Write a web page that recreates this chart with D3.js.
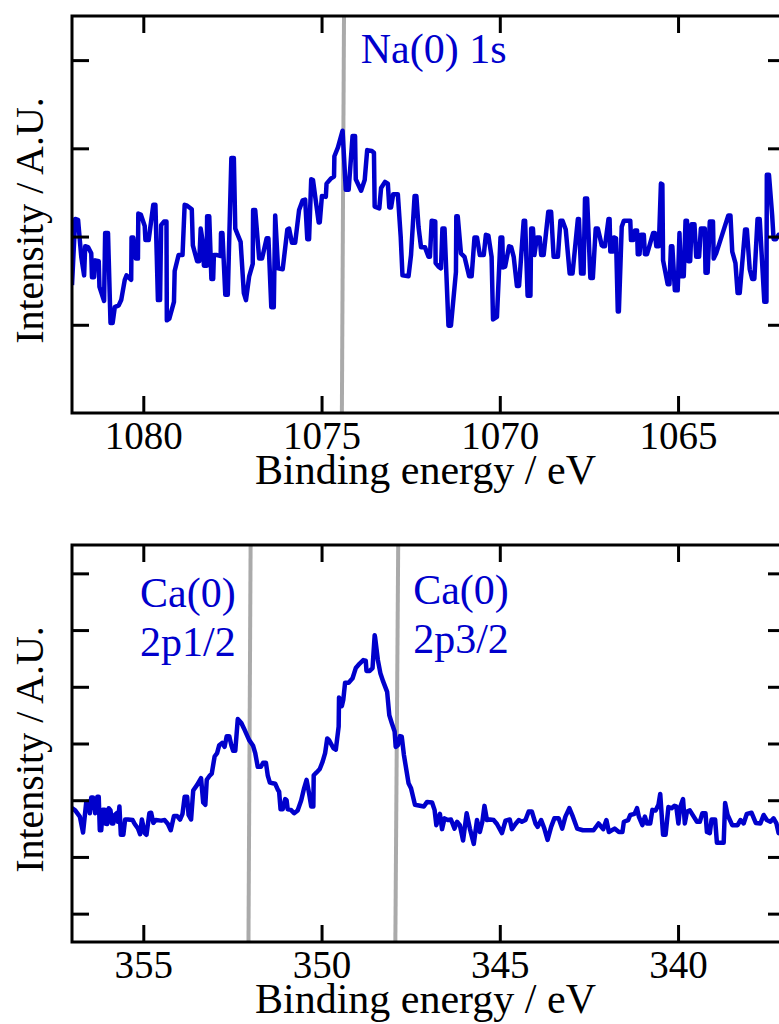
<!DOCTYPE html>
<html>
<head>
<meta charset="utf-8">
<script src="https://cdn.jsdelivr.net/npm/d3@7"></script>
<style>
  body { margin: 0; background: #fff; }
  svg { display: block; }
  svg text { font-family: "Liberation Serif", "Times New Roman", serif; }
</style>
</head>
<body>
<div id="chart-area"></div>
<script>
const naSpectrum = [
  [1082.00,1.45],[1081.91,2.20],[1081.83,2.19],[1081.74,1.77],[1081.66,1.56],[1081.63,1.89],[1081.55,1.88],[1081.46,1.81],
  [1081.44,1.54],[1081.38,1.54],[1081.35,1.73],[1081.25,1.72],[1081.23,1.43],[1081.10,1.27],[1081.07,2.04],[1080.99,2.04],
  [1080.92,1.02],[1080.86,1.02],[1080.80,1.20],[1080.69,1.22],[1080.62,1.28],[1080.52,1.51],[1080.47,1.56],[1080.34,1.51],
  [1080.33,1.99],[1080.28,1.99],[1080.21,1.75],[1080.15,1.75],[1080.14,2.26],[1080.07,2.25],[1079.96,2.12],[1079.94,1.96],
  [1079.85,1.96],[1079.72,2.36],[1079.66,2.36],[1079.59,1.28],[1079.53,1.28],[1079.50,2.13],[1079.42,2.17],[1079.35,2.17],
  [1079.34,1.05],[1079.27,1.07],[1079.14,1.26],[1079.12,1.61],[1079.01,1.79],[1078.90,1.79],[1078.84,2.36],[1078.77,2.35],
  [1078.64,2.31],[1078.61,1.90],[1078.49,1.72],[1078.43,1.72],[1078.39,2.09],[1078.34,1.96],[1078.30,1.67],[1078.22,1.67],
  [1078.21,2.23],[1078.15,2.23],[1078.09,1.52],[1078.04,1.52],[1078.02,1.79],[1077.93,1.79],[1077.83,1.78],[1077.82,2.04],
  [1077.78,2.04],[1077.70,1.34],[1077.63,1.34],[1077.53,2.89],[1077.46,2.89],[1077.42,2.09],[1077.35,2.02],[1077.27,1.94],
  [1077.18,1.36],[1077.12,1.28],[1077.03,1.55],[1076.93,1.69],[1076.92,2.30],[1076.86,2.30],[1076.75,1.75],[1076.67,1.75],
  [1076.54,1.98],[1076.49,1.98],[1076.41,1.20],[1076.34,1.20],[1076.30,2.24],[1076.22,1.64],[1076.09,1.63],[1075.96,2.08],
  [1075.91,2.09],[1075.83,1.93],[1075.74,1.93],[1075.63,2.30],[1075.53,2.41],[1075.46,2.42],[1075.40,1.97],[1075.35,1.97],
  [1075.29,2.65],[1075.24,2.64],[1075.08,2.16],[1075.05,2.16],[1074.99,2.46],[1074.88,2.45],[1074.86,2.60],[1074.73,2.66],
  [1074.65,2.68],[1074.64,2.91],[1074.54,3.01],[1074.41,3.20],[1074.32,2.53],[1074.24,2.53],[1074.13,3.14],[1074.06,3.14],
  [1074.04,2.65],[1073.89,2.52],[1073.79,2.64],[1073.72,2.98],[1073.59,2.97],[1073.53,2.95],[1073.51,2.34],[1073.38,2.32],
  [1073.33,2.55],[1073.22,2.62],[1073.14,2.60],[1073.10,2.33],[1073.05,2.33],[1072.99,2.48],[1072.86,2.48],[1072.78,2.00],
  [1072.73,1.56],[1072.56,1.55],[1072.49,1.79],[1072.39,2.46],[1072.34,2.46],[1072.28,2.11],[1072.21,1.88],[1072.10,1.88],
  [1072.00,1.77],[1071.96,1.77],[1071.91,2.18],[1071.81,2.17],[1071.80,1.70],[1071.72,1.66],[1071.65,1.64],[1071.61,2.09],
  [1071.55,2.09],[1071.44,0.99],[1071.37,0.99],[1071.23,1.60],[1071.22,2.23],[1071.18,2.23],[1071.09,1.81],[1070.99,1.77],
  [1070.86,1.55],[1070.79,1.55],[1070.71,1.99],[1070.64,1.99],[1070.56,1.79],[1070.45,1.79],[1070.39,2.02],[1070.32,2.01],
  [1070.23,1.77],[1070.19,1.06],[1070.08,1.09],[1069.98,1.99],[1069.93,1.99],[1069.91,1.65],[1069.85,1.66],[1069.74,1.89],
  [1069.68,1.88],[1069.61,1.77],[1069.52,1.44],[1069.46,1.44],[1069.33,2.18],[1069.29,2.18],[1069.22,1.33],[1069.14,1.33],
  [1069.12,2.09],[1069.07,2.09],[1069.03,1.79],[1068.96,1.99],[1068.88,1.99],[1068.84,1.79],[1068.77,1.79],[1068.64,2.28],
  [1068.56,2.28],[1068.49,1.77],[1068.37,1.77],[1068.30,2.18],[1068.24,2.18],[1068.15,2.08],[1068.04,1.58],[1067.96,1.58],
  [1067.81,2.20],[1067.78,2.20],[1067.72,1.58],[1067.65,1.58],[1067.61,2.43],[1067.55,2.43],[1067.46,1.53],[1067.39,1.53],
  [1067.31,2.09],[1067.25,2.09],[1067.14,1.90],[1067.10,1.89],[1067.05,1.89],[1066.95,2.20],[1066.92,2.20],[1066.90,1.83],
  [1066.82,1.83],[1066.80,1.99],[1066.74,1.98],[1066.69,1.15],[1066.66,1.15],[1066.58,2.11],[1066.52,2.18],[1066.34,2.18],
  [1066.32,1.96],[1066.26,1.96],[1066.21,2.07],[1066.15,2.07],[1066.13,1.80],[1066.08,1.80],[1066.04,2.02],[1065.96,2.02],
  [1065.93,1.80],[1065.87,1.80],[1065.70,2.04],[1065.65,2.04],[1065.61,1.89],[1065.54,1.89],[1065.48,2.60],[1065.44,2.59],
  [1065.42,1.73],[1065.29,1.46],[1065.24,1.46],[1065.20,1.89],[1065.16,1.89],[1065.09,1.39],[1065.01,1.39],[1064.96,2.04],
  [1064.92,1.55],[1064.84,1.55],[1064.79,2.18],[1064.75,2.18],[1064.71,1.72],[1064.66,1.72],[1064.62,2.14],[1064.54,2.14],
  [1064.49,1.77],[1064.41,1.77],[1064.36,2.09],[1064.25,2.09],[1064.23,1.59],[1064.17,1.59],[1064.11,2.17],[1064.02,2.17],
  [1064.00,1.75],[1063.93,1.81],[1063.59,2.24],[1063.53,2.24],[1063.48,1.83],[1063.39,1.70],[1063.33,1.36],[1063.27,1.36],
  [1063.12,2.08],[1063.07,2.08],[1062.99,1.63],[1062.92,1.52],[1062.86,1.52],[1062.77,2.20],[1062.71,2.20],[1062.58,1.26],
  [1062.52,1.26],[1062.51,2.70],[1062.45,2.70],[1062.36,2.24],[1062.32,1.97],[1062.25,1.97],[1062.18,2.02],[1062.00,2.02]
];

const caSpectrum = [
  [357.00,2.36],[356.91,2.32],[356.78,2.21],[356.69,1.93],[356.60,2.47],[356.53,2.47],[356.50,2.27],[356.46,2.55],
  [356.41,2.55],[356.35,2.27],[356.29,2.56],[356.25,2.56],[356.22,1.97],[356.18,1.97],[356.14,2.33],[356.08,2.33],
  [356.07,2.09],[356.01,2.08],[355.97,2.36],[355.92,2.32],[355.88,2.09],[355.84,2.09],[355.80,2.24],[355.75,2.27],
  [355.71,2.12],[355.67,2.39],[355.63,1.89],[355.56,1.89],[355.51,2.16],[355.43,2.16],[355.30,2.15],[355.24,2.08],
  [355.15,2.00],[355.09,1.90],[355.04,2.16],[354.96,1.92],[354.91,1.89],[354.83,2.27],[354.78,2.28],[354.72,2.10],
  [354.65,2.15],[354.50,2.14],[354.40,2.15],[354.31,2.08],[354.23,1.97],[354.14,2.22],[354.05,2.22],[353.97,2.16],
  [353.90,2.26],[353.84,2.56],[353.77,2.56],[353.73,2.24],[353.66,2.16],[353.60,2.67],[353.49,2.77],[353.38,2.89],
  [353.32,2.46],[353.26,2.42],[353.22,2.86],[353.13,2.94],[353.08,2.97],[353.00,3.27],[352.93,3.33],[352.87,3.47],
  [352.79,3.51],[352.72,3.44],[352.66,3.63],[352.59,3.63],[352.53,3.47],[352.48,3.37],[352.42,3.37],[352.35,3.93],
  [352.25,3.86],[352.18,3.77],[352.03,3.56],[351.92,3.46],[351.86,3.33],[351.79,3.09],[351.70,3.09],[351.64,3.16],
  [351.56,3.16],[351.51,2.94],[351.45,2.81],[351.37,2.80],[351.30,2.79],[351.23,2.69],[351.19,2.65],[351.15,2.34],
  [351.09,2.34],[351.02,2.52],[350.98,2.50],[350.95,2.34],[350.86,2.33],[350.77,2.27],[350.67,2.32],[350.57,2.50],
  [350.49,2.71],[350.42,2.86],[350.35,2.62],[350.29,2.39],[350.23,2.39],[350.22,2.94],[350.14,2.99],[350.05,3.05],
  [349.97,3.18],[349.90,3.33],[349.84,3.59],[349.79,3.56],[349.67,3.42],[349.60,3.39],[349.52,3.80],[349.51,4.31],
  [349.43,4.16],[349.39,4.27],[349.34,4.57],[349.24,4.57],[349.13,4.65],[349.04,4.83],[348.93,4.91],[348.83,4.97],
  [348.76,4.96],[348.74,4.78],[348.65,4.78],[348.57,4.83],[348.51,5.41],[348.50,5.38],[348.42,4.97],[348.35,4.74],
  [348.27,4.59],[348.16,4.41],[348.10,4.00],[348.03,3.86],[347.95,3.71],[347.92,3.44],[347.86,3.47],[347.80,3.63],
  [347.75,3.62],[347.69,3.30],[347.62,3.03],[347.56,2.80],[347.49,2.71],[347.38,2.42],[347.13,2.39],[347.04,2.47],
  [346.90,2.46],[346.83,2.33],[346.78,2.06],[346.68,2.26],[346.62,1.99],[346.55,2.18],[346.46,2.15],[346.37,2.16],
  [346.27,2.00],[346.20,2.12],[346.12,2.06],[346.03,1.79],[345.93,2.27],[345.84,2.00],[345.73,1.73],[345.64,2.15],
  [345.56,1.94],[345.49,2.12],[345.43,2.40],[345.36,2.15],[345.28,2.16],[345.17,2.15],[345.08,2.08],[344.94,1.92],
  [344.84,2.14],[344.72,2.16],[344.66,1.99],[344.56,2.08],[344.47,2.15],[344.38,2.12],[344.28,2.15],[344.19,2.30],
  [344.10,2.30],[344.00,2.09],[343.94,2.03],[343.84,2.15],[343.75,2.00],[343.66,1.80],[343.56,2.03],[343.47,2.18],
  [343.35,2.18],[343.25,2.00],[343.16,2.21],[343.05,2.36],[342.95,2.21],[342.83,2.00],[342.67,1.97],[342.37,1.97],
  [342.23,2.09],[342.10,1.99],[342.01,2.15],[341.94,1.94],[341.78,2.00],[341.66,1.94],[341.56,1.94],[341.52,2.12],
  [341.40,2.15],[341.34,2.24],[341.22,2.26],[341.15,2.36],[341.10,2.21],[341.00,2.06],[340.93,2.21],[340.87,2.09],
  [340.78,2.09],[340.72,2.33],[340.63,2.32],[340.55,2.42],[340.50,2.61],[340.42,1.89],[340.35,1.89],[340.27,2.38],
  [340.18,2.36],[340.10,2.40],[340.05,2.39],[339.99,2.09],[339.94,2.38],[339.86,2.52],[339.81,2.09],[339.75,2.30],
  [339.67,2.32],[339.56,2.21],[339.47,2.12],[339.39,2.12],[339.32,2.27],[339.23,2.27],[339.19,1.94],[339.11,1.92],
  [339.06,2.16],[338.96,2.16],[338.91,1.75],[338.72,1.75],[338.68,2.45],[338.61,2.24],[338.48,2.06],[338.33,2.06],
  [338.25,2.15],[338.16,2.09],[338.07,2.26],[337.94,2.28],[337.82,2.10],[337.69,2.09],[337.60,2.24],[337.51,2.15],
  [337.41,2.12],[337.32,2.18],[337.24,2.09],[337.18,1.92],[337.00,1.95]
];

const naEnergyRange = [1082, 1062];
const caEnergyRange = [357, 337];
const naIntensityRange = [0, 4.5];
const caIntensityRange = [0, 7];

const naEnergyTicks = [1080, 1075, 1070, 1065];
const caEnergyTicks = [355, 350, 345, 340];
const naIntensityTicks = [1, 2, 3, 4];
const caIntensityTicks = [0.5, 1.5, 2.5, 3.5, 4.5, 5.5, 6.5];

// peak reference lines: energy at the top edge, energy at the bottom edge
const naPeaks = [[1074.37, 1074.43]];
const caPeaks = [[351.99, 352.05], [347.85, 347.93]];

const naLabels = [{ lines: ["Na(0) 1s"], energy: 1073.90, intensity: 3.97 }];
const caLabels = [
  { lines: ["Ca(0)", "2p1/2"], energy: 355.09, intensity: 5.91 },
  { lines: ["Ca(0)", "2p3/2"], energy: 347.43, intensity: 5.96 }
];

const xTitle = "Binding energy / eV";
const yTitle = "Intensity / A.U.";

const drawChart = () => {
  const width = 779;
  const height = 1024;
  const plotLeft = 72;
  const plotRight = 785;
  const tickLen = 17;
  const blue = "#0000cc";

  const panels = [
    { top: 16, bottom: 413, spectrum: naSpectrum, energyRange: naEnergyRange, intensityRange: naIntensityRange,
      energyTicks: naEnergyTicks, intensityTicks: naIntensityTicks, peaks: naPeaks, labels: naLabels },
    { top: 545, bottom: 942, spectrum: caSpectrum, energyRange: caEnergyRange, intensityRange: caIntensityRange,
      energyTicks: caEnergyTicks, intensityTicks: caIntensityTicks, peaks: caPeaks, labels: caLabels }
  ];

  const svg = d3.select("#chart-area")
                .append("svg")
                .attr("width", width)
                .attr("height", height);

  panels.forEach((p, i) => {
    const x = d3.scaleLinear().domain(p.energyRange).range([plotLeft, plotRight]);
    const y = d3.scaleLinear().domain(p.intensityRange).range([p.bottom, p.top]);

    svg.append("clipPath")
       .attr("id", "clip" + i)
       .append("rect")
       .attr("x", plotLeft)
       .attr("y", p.top)
       .attr("width", plotRight - plotLeft)
       .attr("height", p.bottom - p.top);

    const g = svg.append("g");

    g.selectAll("line.peak")
     .data(p.peaks)
     .join("line")
     .attr("class", "peak")
     .attr("x1", d => x(d[0]))
     .attr("y1", p.top)
     .attr("x2", d => x(d[1]))
     .attr("y2", p.bottom)
     .attr("stroke", "#aaaaaa")
     .attr("stroke-width", 4);

    g.append("path")
     .datum(p.spectrum)
     .attr("clip-path", `url(#clip${i})`)
     .attr("fill", "none")
     .attr("stroke", blue)
     .attr("stroke-width", 4.5)
     .attr("stroke-linejoin", "round")
     .attr("d", d3.line().x(d => x(d[0])).y(d => y(d[1])));

    const styleAxis = sel => {
      sel.select(".domain").remove();
      sel.selectAll(".tick line").attr("stroke", "#000").attr("stroke-width", 3);
      sel.attr("font-family", null).attr("font-size", 39);
    };

    g.append("g")
     .attr("transform", `translate(0,${p.bottom})`)
     .call(d3.axisBottom(x).tickValues(p.energyTicks).tickSize(-tickLen).tickFormat(d3.format("d")))
     .call(styleAxis)
     .call(a => a.selectAll("text").attr("y", 36).attr("dy", null).attr("fill", "#000"));

    g.append("g")
     .attr("transform", `translate(0,${p.top})`)
     .call(d3.axisTop(x).tickValues(p.energyTicks).tickSize(-tickLen).tickFormat(""))
     .call(styleAxis);

    g.append("g")
     .attr("transform", `translate(${plotLeft},0)`)
     .call(d3.axisLeft(y).tickValues(p.intensityTicks).tickSize(-tickLen).tickFormat(""))
     .call(styleAxis);

    g.append("g")
     .attr("transform", `translate(${plotRight},0)`)
     .call(d3.axisRight(y).tickValues(p.intensityTicks).tickSize(-tickLen).tickFormat(""))
     .call(styleAxis);

    g.append("rect")
     .attr("x", plotLeft)
     .attr("y", p.top)
     .attr("width", plotRight - plotLeft)
     .attr("height", p.bottom - p.top)
     .attr("fill", "none")
     .attr("stroke", "#000")
     .attr("stroke-width", 3);

    g.append("text")
     .attr("text-anchor", "middle")
     .attr("x", (plotLeft + plotRight) / 2 - 3)
     .attr("y", p.bottom + 71)
     .attr("font-size", 42)
     .text(xTitle);

    const yMid = (p.top + p.bottom) / 2 + 6;
    g.append("text")
     .attr("text-anchor", "middle")
     .attr("transform", `translate(43,${yMid}) rotate(-90)`)
     .attr("font-size", 40)
     .text(yTitle);

    const labels = g.selectAll("text.peak-label")
                    .data(p.labels)
                    .join("text")
                    .attr("class", "peak-label")
                    .attr("x", d => x(d.energy))
                    .attr("y", d => y(d.intensity))
                    .attr("font-size", 42)
                    .attr("fill", blue);

    labels.selectAll("tspan")
          .data(d => d.lines.map((t, k) => ({ t, k, x: x(d.energy) })))
          .join("tspan")
          .attr("x", d => d.x)
          .attr("dy", d => d.k === 0 ? 0 : 49)
          .text(d => d.t);
  });
};

drawChart();
</script>
</body>
</html>
